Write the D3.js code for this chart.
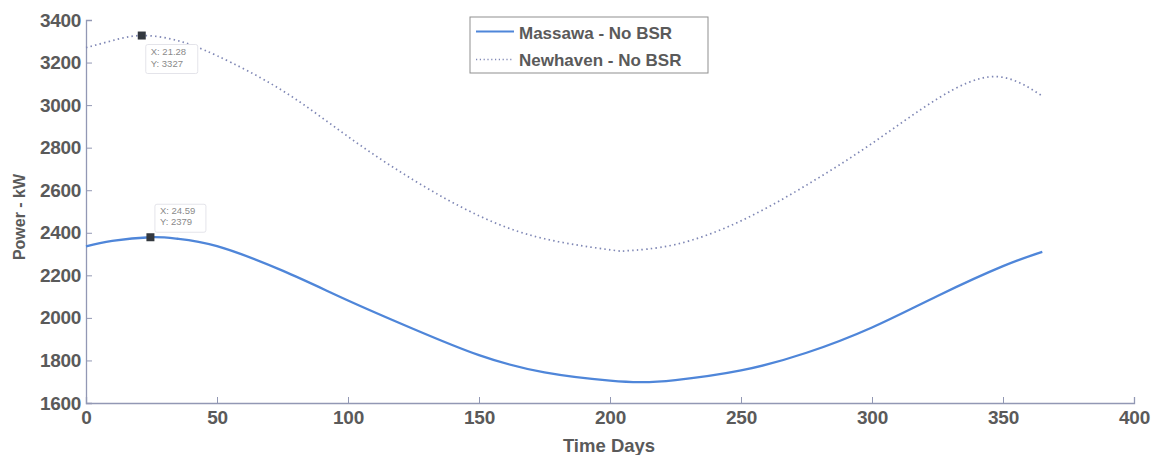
<!DOCTYPE html>
<html>
<head>
<meta charset="utf-8">
<script src="https://cdn.jsdelivr.net/npm/d3@7"></script>
<style>
  html, body { margin: 0; padding: 0; background: #fff; }
  svg { display: block; font-family: "Liberation Sans", Arial, sans-serif; }
</style>
</head>
<body>
<svg id="chart" width="1159" height="455"></svg>
<script>
// ---- data ----
const massawaDays  = [0, 10, 24.59, 35, 50, 75, 100, 125, 150, 175, 200, 212, 225, 250, 275, 300, 325, 350, 365];
const massawaPower = [2336, 2362, 2379, 2372, 2337, 2222, 2082, 1948, 1825, 1744, 1705, 1698, 1708, 1753, 1836, 1955, 2103, 2243, 2310];
const newhavenDays  = [0, 10, 21.28, 35, 50, 75, 100, 125, 150, 175, 200, 207, 225, 250, 275, 300, 325, 347, 365];
const newhavenPower = [3270, 3303, 3327, 3303, 3232, 3068, 2852, 2648, 2480, 2372, 2320, 2316, 2345, 2456, 2624, 2820, 3030, 3134, 3043];
const xTicks = [0, 50, 100, 150, 200, 250, 300, 350, 400];
const yTicks = [1600, 1800, 2000, 2200, 2400, 2600, 2800, 3000, 3200, 3400];
const seriesNames = ["Massawa - No BSR", "Newhaven - No BSR"];
const tips = [
  { x: 24.59, y: 2379, label: ["X: 24.59", "Y: 2379"] },
  { x: 21.28, y: 3327, label: ["X: 21.28", "Y: 3327"] }
];
const xLabel = "Time Days";
const yLabel = "Power - kW";

// ---- layout ----
const mLeft = 86, mRight = 1134, mTop = 20, mBottom = 403;
const svg = d3.select("#chart");
const x = d3.scaleLinear().domain([0, 400]).range([mLeft, mRight]);
const y = d3.scaleLinear().domain([1600, 3400]).range([mBottom, mTop]);

const axisColor = "#9298b4";
const textColor = "#5a5a5a";

// axes
const gx = svg.append("g").attr("transform", `translate(0,${mBottom})`)
  .call(d3.axisBottom(x).tickValues(xTicks).tickSize(-6).tickPadding(8).tickFormat(d3.format("d")));
const gy = svg.append("g").attr("transform", `translate(${mLeft},0)`)
  .call(d3.axisLeft(y).tickValues(yTicks).tickSize(-6).tickPadding(5).tickFormat(d3.format("d")));
[gx, gy].forEach(g => {
  g.select(".domain").attr("stroke", axisColor).attr("stroke-width", 1.3);
  g.selectAll(".tick line").attr("stroke", axisColor).attr("stroke-width", 1);
  g.selectAll(".tick text").attr("fill", textColor).attr("font-size", 19).attr("font-weight", "bold")
    .attr("letter-spacing", "-0.3");
});

// axis labels
svg.append("text").attr("x", 609).attr("y", 452)
  .attr("text-anchor", "middle").attr("font-size", 18.5).attr("font-weight", "bold")
  .attr("fill", textColor).text(xLabel);
svg.append("text").attr("transform", `translate(25,217) rotate(-90)`)
  .attr("text-anchor", "middle").attr("font-size", 16).attr("font-weight", "bold")
  .attr("fill", textColor).text(yLabel);

// lines
const line = d3.line().x(d => x(d[0])).y(d => y(d[1])).curve(d3.curveNatural);
const mData = massawaDays.map((d, i) => [d, massawaPower[i]]);
const nData = newhavenDays.map((d, i) => [d, newhavenPower[i]]);
const blue = "#4f86d9";
const dotColor = "#7f87b5";

svg.append("path").datum(nData).attr("d", line).attr("fill", "none")
  .attr("stroke", dotColor).attr("stroke-width", 1.7).attr("stroke-dasharray", "1.5,3.2");
svg.append("path").datum(mData).attr("d", line).attr("fill", "none")
  .attr("stroke", blue).attr("stroke-width", 2.3);

// data tips
const tipBoxes = [
  { dx: 4.5, dy: -33, w: 51, h: 28, b1: 9.5, b2: 21 },  // Massawa
  { dx: 4, dy: 9, w: 52, h: 29, b1: 10, b2: 22.5 }       // Newhaven
];
tips.forEach((t, i) => {
  const px = x(t.x), py = y(t.y), tb = tipBoxes[i];
  const bx = px + tb.dx, by = py + tb.dy;
  svg.append("rect").attr("x", bx).attr("y", by).attr("width", tb.w).attr("height", tb.h)
    .attr("fill", "#fff").attr("stroke", "#e4e4ea").attr("stroke-width", 1).attr("rx", 2);
  t.label.forEach((s, j) => {
    svg.append("text").attr("x", bx + 5).attr("y", by + (j === 0 ? tb.b1 : tb.b2))
      .attr("font-size", 9.5).attr("fill", "#8a8a8a").text(s);
  });
  svg.append("rect").attr("x", px - 4).attr("y", py - 4).attr("width", 8).attr("height", 8)
    .attr("fill", "#33383f");
});

// legend
const lg = svg.append("g");
lg.append("rect").attr("x", 470).attr("y", 17).attr("width", 238).attr("height", 56)
  .attr("fill", "#fff").attr("stroke", "#8f8f8f").attr("stroke-width", 1);
const legendStyles = [
  { stroke: blue, dash: null, w: 2, ly: 31.5, ty: 39 },
  { stroke: dotColor, dash: "1.2,2.6", w: 1.3, ly: 59.5, ty: 66 }
];
seriesNames.forEach((name, i) => {
  const st = legendStyles[i];
  lg.append("line").attr("x1", 476).attr("x2", 514).attr("y1", st.ly).attr("y2", st.ly)
    .attr("stroke", st.stroke).attr("stroke-width", st.w)
    .attr("stroke-dasharray", st.dash);
  lg.append("text").attr("x", 519).attr("y", st.ty).attr("font-size", 17).attr("font-weight", "bold")
    .attr("fill", textColor).text(name);
});
</script>
</body>
</html>
